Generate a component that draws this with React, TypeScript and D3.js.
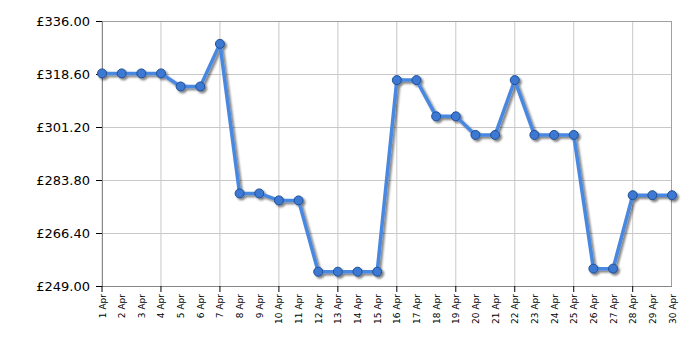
import React, { useEffect, useRef } from 'react';
import * as d3 from 'd3';

const days = d3.range(1, 31).map(d => `${d} Apr`);
const prices = [
  318.8, 318.8, 318.8, 318.8, 314.5, 314.5, 328.5, 279.4, 279.4, 277.1,
  277.1, 253.7, 253.7, 253.7, 253.7, 316.6, 316.6, 304.7, 304.7, 298.6,
  298.6, 316.6, 298.6, 298.6, 298.6, 254.7, 254.7, 278.8, 278.8, 278.8,
];
const yTicks = [249, 266.4, 283.8, 301.2, 318.6, 336];

const App: React.FC = () => {
  const svgRef = useRef<SVGSVGElement>(null);

  useEffect(() => {
    if (!svgRef.current) return;
    const svg = d3.select(svgRef.current);
    svg.selectAll('*').remove();

    const width = 700;
    const height = 350;
    const margin = { top: 21, right: 28, bottom: 64, left: 102 };
    const innerW = width - margin.left - margin.right;
    const innerH = height - margin.top - margin.bottom;
    const font = '"DejaVu Sans", Verdana, sans-serif';

    const x = d3.scalePoint<string>().domain(days).range([0, innerW]);
    const y = d3.scaleLinear().domain([249, 336]).range([innerH, 0]);

    const defs = svg.append('defs');
    const filter = defs.append('filter').attr('id', 'shadow')
      .attr('x', '-10%').attr('y', '-10%').attr('width', '120%').attr('height', '120%');
    filter.append('feGaussianBlur').attr('in', 'SourceAlpha').attr('stdDeviation', 1.2);
    filter.append('feOffset').attr('dx', 2).attr('dy', 2).attr('result', 'off');
    filter.append('feComponentTransfer').append('feFuncA').attr('type', 'linear').attr('slope', 0.5);
    const merge = filter.append('feMerge');
    merge.append('feMergeNode');
    merge.append('feMergeNode').attr('in', 'SourceGraphic');

    const g = svg.append('g').attr('transform', `translate(${margin.left},${margin.top})`);

    // grid
    const gridDays = days.filter((_, i) => i % 3 === 0);
    g.selectAll('.vgrid').data(gridDays).join('line')
      .attr('x1', d => x(d)!).attr('x2', d => x(d)!)
      .attr('y1', 0).attr('y2', innerH)
      .attr('stroke', '#c8c8c8').attr('stroke-width', 1);
    g.selectAll('.hgrid').data(yTicks).join('line')
      .attr('x1', 0).attr('x2', innerW)
      .attr('y1', d => Math.round(y(d)) + 0.5).attr('y2', d => Math.round(y(d)) + 0.5)
      .attr('stroke', '#c8c8c8').attr('stroke-width', 1);

    // frame
    g.append('line').attr('x1', 0).attr('x2', innerW).attr('y1', 0.5).attr('y2', 0.5)
      .attr('stroke', '#a0a0a0');
    g.append('line').attr('x1', innerW - 0.5).attr('x2', innerW - 0.5).attr('y1', 0).attr('y2', innerH)
      .attr('stroke', '#a0a0a0');
    g.append('line').attr('x1', 0.5).attr('x2', 0.5).attr('y1', 0).attr('y2', innerH + 0.5)
      .attr('stroke', '#888');
    g.append('line').attr('x1', 0).attr('x2', innerW).attr('y1', innerH + 0.5).attr('y2', innerH + 0.5)
      .attr('stroke', '#888');

    // y ticks + labels
    g.selectAll('.ytick').data(yTicks).join('line')
      .attr('x1', -6).attr('x2', 0)
      .attr('y1', d => Math.round(y(d)) + 0.5).attr('y2', d => Math.round(y(d)) + 0.5)
      .attr('stroke', '#000');
    g.selectAll('.ylabel').data(yTicks).join('text')
      .attr('x', -12).attr('y', d => y(d)).attr('dy', '0.36em')
      .attr('text-anchor', 'end')
      .style('font-family', font).style('font-size', '13px').attr('fill', '#000')
      .text(d => `£${d.toFixed(2)}`);

    // x ticks + labels
    g.selectAll('.xtick').data(gridDays).join('line')
      .attr('x1', d => x(d)!).attr('x2', d => x(d)!)
      .attr('y1', innerH).attr('y2', innerH + 6)
      .attr('stroke', '#000');
    g.selectAll('.xlabel').data(days).join('text')
      .attr('transform', d => `translate(${x(d)! + 3.5},${innerH + 8}) rotate(-90)`)
      .attr('text-anchor', 'end')
      .style('font-family', font).style('font-size', '9px').attr('fill', '#000')
      .text(d => d);

    // line + markers
    const line = d3.line<number>()
      .x((_, i) => x(days[i])!)
      .y(d => y(d));
    const series = g.append('g').attr('filter', 'url(#shadow)');
    series.append('path').datum(prices)
      .attr('d', line)
      .attr('fill', 'none').attr('stroke', '#4a88e0').attr('stroke-width', 3.5)
      .attr('stroke-linejoin', 'round');
    series.selectAll('circle').data(prices).join('circle')
      .attr('cx', (_, i) => x(days[i])!).attr('cy', d => y(d))
      .attr('r', 4.5)
      .attr('fill', '#3c78d2').attr('stroke', '#1f4f94').attr('stroke-width', 1);
  }, []);

  return <svg ref={svgRef} width={700} height={350} style={{ display: 'block', margin: '-8px' }} />;
};

export default App;
